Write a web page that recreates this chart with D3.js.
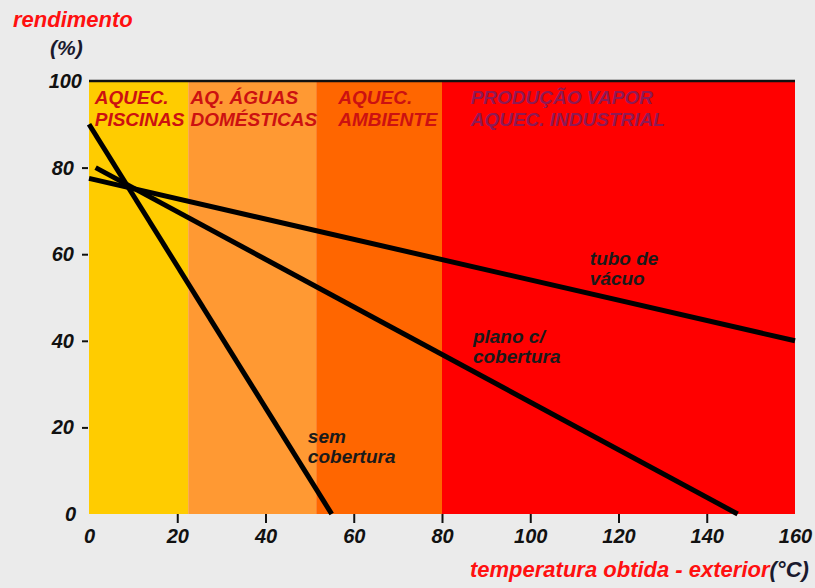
<!DOCTYPE html>
<html>
<head>
<meta charset="utf-8">
<script src="https://cdn.jsdelivr.net/npm/d3@7"></script>
<style>
  body { margin: 0; background: #ebebeb; }
  svg text { font-family: "Liberation Sans", Arial, sans-serif; font-weight: bold; font-style: italic; }
</style>
</head>
<body>
<div id="chart"></div>
<script>
// bands of application
const bandNames = [["AQUEC.", "PISCINAS"], ["AQ. ÁGUAS", "DOMÉSTICAS"], ["AQUEC.", "AMBIENTE"], ["PRODUÇÃO VAPOR", "AQUEC. INDUSTRIAL"]];
const bandStart = [0, 22.5, 51.5, 80];
const bandEnd = [22.5, 51.5, 80, 160];
const bandLabelX = [1.3, 23, 56.5, 86.5];

// collector efficiency lines (temperature, efficiency)
const semCobertura = [[0, 90], [55, 0]];
const planoCobertura = [[1.5, 80], [147, 0]];
const tuboVacuo = [[0, 77.5], [160, 40]];

const lineLabels = [["sem", "cobertura"], ["plano c/", "cobertura"], ["tubo de", "vácuo"]];
const lineLabelPos = [[49.6, 16.4], [87, 39.5], [113.5, 57.5]];

const xTicks = [0, 20, 40, 60, 80, 100, 120, 140, 160];
const yTicks = [0, 20, 40, 60, 80, 100];

const bandColors = ["#ffcc00", "#ff9933", "#ff6600", "#ff0000"];
const bandTextColors = ["#cc1111", "#cc1111", "#cc1111", "#8e1a55"];

const W = 815, H = 588;
const svg = d3.select("#chart").append("svg")
    .attr("width", W)
    .attr("height", H);

svg.append("rect").attr("width", W).attr("height", H).attr("fill", "#ebebeb");

const x = d3.scaleLinear().domain([0, 160]).range([89, 795]);
const y = d3.scaleLinear().domain([0, 100]).range([514, 81]);

// bands
svg.selectAll(".band")
    .data(bandStart)
    .enter()
    .append("rect")
    .attr("class", "band")
    .attr("x", (d, i) => x(d))
    .attr("y", y(100))
    .attr("width", (d, i) => x(bandEnd[i]) - x(d))
    .attr("height", y(0) - y(100))
    .attr("fill", (d, i) => bandColors[i]);

// top border line
svg.append("line")
    .attr("x1", x(0)).attr("x2", x(160))
    .attr("y1", y(100)).attr("y2", y(100))
    .attr("stroke", "#111").attr("stroke-width", 2.5);

// band labels
bandNames.forEach((lines, i) => {
    const t = svg.append("text")
        .attr("x", x(bandLabelX[i]))
        .attr("y", 104)
        .attr("font-size", "19px")
        .attr("fill", bandTextColors[i]);
    lines.forEach((s, j) => {
        t.append("tspan").attr("x", x(bandLabelX[i])).attr("dy", j === 0 ? 0 : 22).text(s);
    });
});

// lines
const line = d3.line().x(d => x(d[0])).y(d => y(d[1]));
[semCobertura, planoCobertura, tuboVacuo].forEach(s => {
    svg.append("path")
        .datum(s)
        .attr("d", line)
        .attr("fill", "none")
        .attr("stroke", "#000")
        .attr("stroke-width", 5);
});

// line labels
lineLabels.forEach((lines, i) => {
    const px = x(lineLabelPos[i][0]), py = y(lineLabelPos[i][1]);
    const t = svg.append("text")
        .attr("x", px).attr("y", py)
        .attr("font-size", "19px")
        .attr("fill", "#1a1a1a");
    lines.forEach((s, j) => {
        t.append("tspan").attr("x", px).attr("dy", j === 0 ? 0 : 20).text(s);
    });
});

// x axis
const xAxis = svg.append("g")
    .attr("transform", `translate(0,${y(0)})`)
    .call(d3.axisBottom(x).tickValues(xTicks).tickSize(9).tickPadding(6));
xAxis.select(".domain").remove();
xAxis.selectAll(".tick line")
    .attr("stroke", "#111").attr("stroke-width", 2)
    .attr("opacity", d => (d === 0 || d === 160) ? 0 : 1);
xAxis.selectAll(".tick text")
    .attr("font-size", "20px")
    .attr("fill", "#111")
    .attr("font-family", null);

// y axis
const yAxis = svg.append("g")
    .attr("transform", `translate(${x(0) - 1},0)`)
    .call(d3.axisLeft(y).tickValues(yTicks).tickSize(6).tickPadding(8));
yAxis.select(".domain").remove();
yAxis.selectAll(".tick line")
    .attr("stroke", "#111").attr("stroke-width", 2)
    .attr("opacity", d => (d === 0 || d === 100) ? 0 : 1);
yAxis.selectAll(".tick text")
    .attr("font-size", "20px")
    .attr("fill", "#111")
    .attr("font-family", null)
    .attr("dx", d => d === 100 ? 8 : (d === 0 ? 2 : 0));

// titles
svg.append("text")
    .attr("x", 13).attr("y", 27)
    .attr("font-size", "22px")
    .attr("fill", "#ff1010")
    .text("rendimento");

svg.append("text")
    .attr("x", 50).attr("y", 55)
    .attr("font-size", "21px")
    .attr("fill", "#1a1a2e")
    .text("(%)");

const xt = svg.append("text")
    .attr("x", 470).attr("y", 577)
    .attr("font-size", "22px")
    .attr("fill", "#ff1010");
xt.append("tspan").text("temperatura obtida - exterior");
xt.append("tspan").attr("fill", "#1a1a2e").text("(°C)");
</script>
</body>
</html>
